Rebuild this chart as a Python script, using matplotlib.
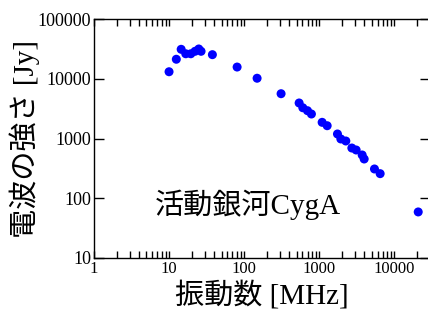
import matplotlib
matplotlib.use('Agg')
import matplotlib.pyplot as plt
from matplotlib.ticker import LogLocator, FixedLocator, NullFormatter

plt.rcParams['font.family'] = ['Liberation Serif', 'Noto Sans CJK JP']

# données (MHz, Jy)
freq = [10.0, 12.5, 14.5, 16.7, 19.5, 22.2, 24.9, 26.7, 37.8, 80.7, 149,
        311, 541, 606, 699, 789, 1096, 1279, 1754, 1946, 2268, 2727, 3113,
        3743, 3981, 5460, 6500, 20900]
flux = [13100, 21200, 31100, 26200, 26200, 28800, 31500, 28800, 25300, 15700, 10200,
        5620, 3930, 3270, 2920, 2570, 1865, 1637, 1190, 982, 908, 693, 642,
        530, 454, 309, 258, 59]
xticks = [1, 10, 100, 1000, 10000]
yticks = [10, 100, 1000, 10000, 100000]

fig = plt.figure(figsize=(4.28, 3.2), dpi=100)
ax = fig.add_axes([94 / 428, 1 - 258 / 320, 336 / 428, 239 / 320])

ax.scatter(freq, flux, s=42, color='#0000ff', edgecolors='none', zorder=3)
ax.set_xscale('log')
ax.set_yscale('log')
ax.set_xlim(1, 30000)
ax.set_ylim(10, 100000)

ax.xaxis.set_major_locator(FixedLocator(xticks))
ax.set_xticklabels([str(v) for v in xticks])
ax.xaxis.set_minor_locator(LogLocator(base=10, subs=range(2, 10), numticks=20))
ax.xaxis.set_minor_formatter(NullFormatter())
ax.yaxis.set_major_locator(FixedLocator(yticks))
ax.set_yticklabels([str(v) for v in yticks])
ax.yaxis.set_minor_locator(FixedLocator([]))

ax.tick_params(axis='x', which='both', direction='in', top=True, length=5,
               width=1, labelsize=12, pad=2)
ax.tick_params(axis='y', which='both', direction='in', right=True, length=7,
               width=1, labelsize=13, pad=2)
for s in ax.spines.values():
    s.set_linewidth(1)

ax.set_xlabel('振動数 [MHz]', fontsize=21, labelpad=3)
ax.set_ylabel('電波の強さ [Jy]', fontsize=21, labelpad=-2)
ax.text(0.458, 0.222, '活動銀河CygA', transform=ax.transAxes, fontsize=21,
        ha='center', va='center')

fig.savefig('out.png', dpi=100)
